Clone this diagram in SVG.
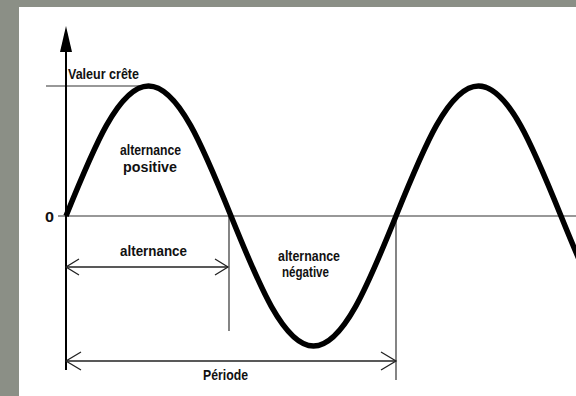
<svg xmlns="http://www.w3.org/2000/svg" width="576" height="396" viewBox="0 0 576 396">
<style>
.lbl{font-family:"Liberation Sans Narrow","Liberation Sans",Arial,sans-serif;font-weight:bold;font-size:14px;fill:#111}
.big{font-size:15px}
.thin{stroke:#333;stroke-width:1.2;fill:none}
.arr{stroke:#222;stroke-width:1.3;fill:none}
</style>
<rect width="576" height="396" fill="#8b8f86"/>
<rect x="19" y="7" width="557" height="389" fill="#ffffff"/>
<g id="connectors">
  <line class="thin" x1="46" y1="86" x2="150" y2="86"/>
  <line class="thin" x1="58" y1="216" x2="576" y2="216"/>
  <line class="thin" x1="229" y1="216" x2="229" y2="331"/>
  <line class="thin" x1="396" y1="216" x2="396" y2="380"/>
  <line x1="66" y1="45" x2="66" y2="370" stroke="#000" stroke-width="2"/>
  <polygon points="66,26 60,52 72,52" fill="#000"/>
  <line class="arr" x1="66" y1="267" x2="228" y2="267"/>
  <polyline class="arr" points="79,259 66,267 79,275"/>
  <polyline class="arr" points="215,259 228,267 215,275"/>
  <line class="arr" x1="66" y1="361" x2="396" y2="361"/>
  <polyline class="arr" points="81,352 66,361 81,370"/>
  <polyline class="arr" points="381,352 396,361 381,370"/>
</g>
<g id="sine">
  <path d="M66,216 C93.58,147.74 118.8,86 148.5,86 C178.2,86 203.42,147.74 231,216 C258.58,284.26 283.8,346 313.5,346 C343.2,346 368.42,284.26 396,216 C423.58,147.74 448.8,86 478.5,86 C508.2,86 533.42,147.74 561,216 C588.58,284.26 613.8,346 643.5,346" fill="none" stroke="#000" stroke-width="5.5"/>
</g>
<g id="labels">
  <text class="lbl big" x="68" y="79" textLength="71" lengthAdjust="spacingAndGlyphs">Valeur crête</text>
  <text class="lbl" x="45" y="221.5" font-size="17" textLength="9" lengthAdjust="spacingAndGlyphs">0</text>
  <text class="lbl" x="120" y="155" textLength="61" lengthAdjust="spacingAndGlyphs">alternance</text>
  <text class="lbl" x="123" y="172" textLength="54" lengthAdjust="spacingAndGlyphs">positive</text>
  <text class="lbl" x="120" y="256" textLength="67" lengthAdjust="spacingAndGlyphs">alternance</text>
  <text class="lbl" x="278" y="261" textLength="62" lengthAdjust="spacingAndGlyphs">alternance</text>
  <text class="lbl" x="282" y="277" textLength="47" lengthAdjust="spacingAndGlyphs">négative</text>
  <text class="lbl big" x="203" y="380" textLength="45" lengthAdjust="spacingAndGlyphs">Période</text>
</g>
</svg>
